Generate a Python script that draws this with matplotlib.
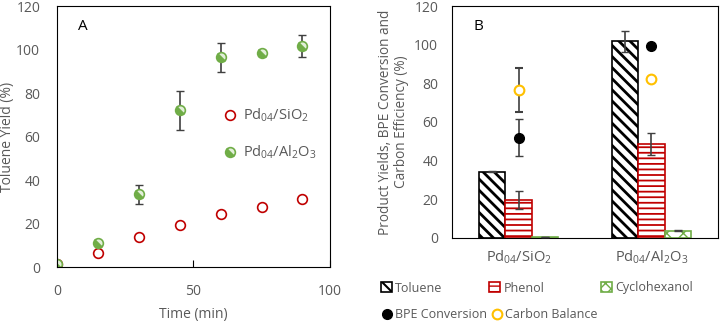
import matplotlib
matplotlib.use("Agg")
import matplotlib.pyplot as plt
from matplotlib.markers import MarkerStyle
from matplotlib.transforms import Affine2D
from matplotlib.patches import Patch
from matplotlib.lines import Line2D
import numpy as np

plt.rcParams['font.family'] = ['Open Sans', 'DejaVu Sans']
plt.rcParams['mathtext.default'] = 'regular'
plt.rcParams['font.size'] = 10

GRAY = '#595959'
RED = '#c00000'
GREEN = '#70ad47'
YELLOW = '#ffc000'
ERR = '#404040'

# panel A: toluene yield vs time
time_min = [0, 15, 30, 45, 60, 75, 90]
sio2_yield = [1.5, 6.6, 14.0, 19.5, 24.4, 27.6, 31.2]
sio2_err = [0.3, 0.5, 0.6, 0.8, 1.5, 1.5, 0.8]
al2o3_yield = [1.5, 10.9, 33.5, 72.1, 96.4, 98.5, 101.6]
al2o3_err = [0.3, 0.8, 4.3, 9.0, 6.5, 1.5, 5.0]

# panel B: product yields per catalyst
catalysts = ['Pd$_{04}$/SiO$_2$', 'Pd$_{04}$/Al$_2$O$_3$']
toluene = [34.3, 101.7]
toluene_err = [0.3, 5.5]
phenol = [19.5, 48.5]
phenol_err = [4.6, 5.6]
cyclohexanol = [0.5, 3.6]
cyclohexanol_err = [0.2, 0.3]
bpe_conv = [51.8, 99.1]
bpe_err = [9.6, 0.0]
carbon_bal = [76.5, 82.5]
carbon_err = [11.5, 0.0]

# hatch styles: (edge colour, hatch, hatch linewidth)
STY_TOL = ('black', '\\\\\\', 2.0)
STY_PHE = (RED, '---', 1.3)
STY_CYC = (GREEN, 'xx', 1.0)


def hatch_lw(artists, lw):
    for a in artists:
        if hasattr(a, 'set_hatch_linewidth'):
            a.set_hatch_linewidth(lw)


fig = plt.figure(figsize=(7.2, 3.21), dpi=100)

# ---------- panel A ----------
axA = fig.add_axes([0.079, 0.168, 0.379, 0.813])
half = MarkerStyle('o', fillstyle='left', transform=Affine2D().rotate_deg(45))
axA.errorbar(time_min, sio2_yield, yerr=sio2_err, fmt='none', ecolor=ERR,
             elinewidth=1.2, capsize=3)
axA.plot(time_min, sio2_yield, 'o', ms=7, mfc='white', mec=RED, mew=1.2,
         linestyle='none', label='Pd$_{04}$/SiO$_2$')
axA.errorbar(time_min, al2o3_yield, yerr=al2o3_err, fmt='none', ecolor=ERR,
             elinewidth=1.2, capsize=3)
axA.plot(time_min, al2o3_yield, marker=half, ms=7, mfc=GREEN,
         markerfacecoloralt='#e2efd9', mec=GREEN, mew=1.2,
         linestyle='none', label='Pd$_{04}$/Al$_2$O$_3$')
axA.set_xlim(0, 100)
axA.set_ylim(0, 120)
axA.set_xticks([0, 50, 100])
axA.set_yticks(range(0, 121, 20))
axA.tick_params(axis='x', direction='in', length=5, colors='black',
                labelcolor=GRAY, pad=12)
axA.tick_params(axis='y', length=0, labelcolor=GRAY, pad=12)
axA.set_xlabel('Time (min)', color=GRAY, labelpad=6)
axA.set_ylabel('Toluene Yield (%)', color=GRAY, labelpad=1)
axA.text(0.077, 0.92, 'A', transform=axA.transAxes, fontsize=11,
         ha='left', va='center')
axA.legend(loc='center left', bbox_to_anchor=(0.555, 0.51), frameon=False,
           labelcolor=GRAY, handletextpad=0.3, labelspacing=1.35,
           handlelength=1.2, fontsize=10.5)

# ---------- panel B ----------
axB = fig.add_axes([0.628, 0.259, 0.369, 0.722])
x = np.arange(len(catalysts))
w = 0.2
for vals, off, sty, lab in [(toluene, -w, STY_TOL, 'Toluene'),
                            (phenol, 0, STY_PHE, 'Phenol'),
                            (cyclohexanol, w, STY_CYC, 'Cyclohexanol')]:
    with plt.rc_context({'hatch.linewidth': sty[2]}):
        bars = axB.bar(x + off, vals, w, color='white', edgecolor=sty[0],
                       hatch=sty[1], linewidth=1.2, label=lab, zorder=2)
    hatch_lw(bars, sty[2])
axB.errorbar(x - w, toluene, yerr=toluene_err, fmt='none', ecolor=ERR,
             elinewidth=1.2, capsize=3, zorder=3)
axB.errorbar(x, phenol, yerr=phenol_err, fmt='none', ecolor=ERR,
             elinewidth=1.2, capsize=3, zorder=3)
axB.errorbar(x + w, cyclohexanol, yerr=cyclohexanol_err, fmt='none',
             ecolor=ERR, elinewidth=1.2, capsize=3, zorder=3)
axB.errorbar(x, bpe_conv, yerr=bpe_err, fmt='o', ms=7, mfc='black',
             mec='black', ecolor=ERR, elinewidth=1.2, capsize=3, zorder=4)
axB.errorbar(x, carbon_bal, yerr=carbon_err, fmt='o', ms=7, mfc='white',
             mec=YELLOW, mew=1.5, ecolor=ERR, elinewidth=1.2, capsize=3,
             zorder=4)
axB.set_xlim(-0.5, 1.5)
axB.set_ylim(0, 120)
axB.set_xticks(x)
axB.set_xticklabels(catalysts, fontsize=10.5)
axB.set_yticks(range(0, 121, 20))
axB.tick_params(axis='x', length=0, labelcolor=GRAY, pad=8)
axB.tick_params(axis='y', length=0, labelcolor=GRAY, pad=10)
axB.set_ylabel('Product Yields, BPE Conversion and\nCarbon Efficiency (%)',
               color=GRAY, labelpad=4, fontsize=9.8, linespacing=1.1)
axB.text(0.079, 0.914, 'B', transform=axB.transAxes, fontsize=11,
         ha='left', va='center')

# legend of panel B, one entry per box so they sit where the reference has them
entries = [
    (Patch(facecolor='white', edgecolor=STY_TOL[0], hatch='\\\\\\', label='Toluene'), 381, 288, 1.5),
    (Patch(facecolor='white', edgecolor=STY_PHE[0], hatch='---', label='Phenol'), 489, 288, 1.0),
    (Patch(facecolor='white', edgecolor=STY_CYC[0], hatch='xxx', label='Cyclohexanol'), 601, 288, 1.0),
    (Line2D([], [], marker='o', ls='none', ms=7, mfc='black', mec='black',
            label='BPE Conversion'), 381, 315, None),
    (Line2D([], [], marker='o', ls='none', ms=7, mfc='white', mec=YELLOW,
            mew=1.5, label='Carbon Balance'), 491, 315, None),
]
for h, px, py, hl in entries:
    if hl is not None:
        h.set_linewidth(1.2)
        hatch_lw([h], hl)
    with plt.rc_context({'hatch.linewidth': hl if hl else 1.0}):
        leg = fig.legend(handles=[h], loc='center left',
                         bbox_to_anchor=(px / 720, 1 - py / 321), frameon=False,
                         labelcolor=GRAY, handlelength=0.9, handleheight=0.9,
                         handletextpad=0.25, borderpad=0, borderaxespad=0,
                         fontsize=9)
    if hl is not None:
        hatch_lw(leg.get_patches(), hl)

fig.savefig('out.png', dpi=100)
